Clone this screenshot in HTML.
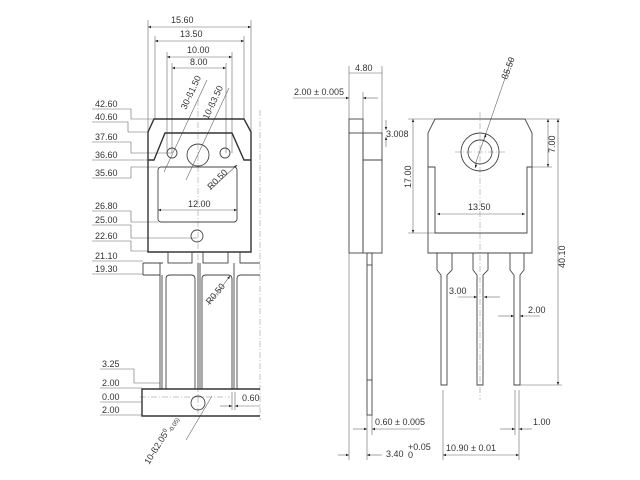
<!DOCTYPE html>
<html><head><meta charset="utf-8"><style>
html,body{margin:0;padding:0;background:#fff;}
svg{display:block;}
text{font-family:"Liberation Sans",sans-serif;font-size:9px;fill:#333;}
.o{fill:none;stroke:#333;stroke-width:1.4;}
.m{fill:none;stroke:#444;stroke-width:0.9;}
.d{fill:none;stroke:#666;stroke-width:0.6;}
.c{fill:none;stroke:#888;stroke-width:0.5;stroke-dasharray:6 2 1 2;}
</style></head><body>
<svg width="640" height="480" viewBox="0 0 640 480" xmlns="http://www.w3.org/2000/svg">
<defs>
<marker id="a" viewBox="0 0 10 10" refX="10" refY="5" markerWidth="7" markerHeight="5" orient="auto-start-reverse"><path d="M0,1 L10,5 L0,9 z" fill="#222"/></marker>
</defs>
<g class="d">
<line x1="148" y1="27" x2="251" y2="27" marker-start="url(#a)" marker-end="url(#a)"/>
<line x1="155" y1="41" x2="244" y2="41" marker-start="url(#a)" marker-end="url(#a)"/>
<line x1="167" y1="57" x2="232" y2="57" marker-start="url(#a)" marker-end="url(#a)"/>
<line x1="172" y1="68" x2="226" y2="68" marker-start="url(#a)" marker-end="url(#a)"/>
<line x1="148" y1="20" x2="148" y2="132"/><line x1="251" y1="20" x2="251" y2="132"/>
<line x1="155" y1="36" x2="155" y2="119"/><line x1="244" y1="36" x2="244" y2="119"/>
<line x1="167" y1="52" x2="167" y2="153"/><line x1="232" y1="52" x2="232" y2="153"/>
<line x1="172" y1="63" x2="172" y2="153"/><line x1="226" y1="63" x2="226" y2="153"/>
<line x1="164" y1="172" x2="207" y2="80"/>
<line x1="186" y1="180" x2="229" y2="88"/>
<line x1="210" y1="190" x2="237" y2="165" marker-end="url(#a)"/>
<line x1="158" y1="210" x2="237" y2="210" marker-start="url(#a)" marker-end="url(#a)"/>
<line x1="208" y1="305" x2="230" y2="276" marker-end="url(#a)"/>
<line x1="186" y1="440" x2="212" y2="396" />
<line x1="220" y1="406" x2="232" y2="406" marker-end="url(#a)"/>
<line x1="235" y1="406" x2="260" y2="406" marker-start="url(#a)"/>
<line x1="232" y1="392" x2="232" y2="410"/><line x1="235" y1="392" x2="235" y2="410"/>
</g>
<g class="c">
<line x1="198" y1="100" x2="198" y2="420"/>
<line x1="260" y1="110" x2="260" y2="420"/>
<line x1="140" y1="397" x2="230" y2="397"/>
</g>
<text x="171" y="23">15.60</text>
<text x="180" y="37">13.50</text>
<text x="187" y="53">10.00</text>
<text x="190" y="65">8.00</text>
<text transform="translate(186,110) rotate(-65)">30-ß1.50</text>
<text transform="translate(208,120) rotate(-65)">10-ß3.50</text>
<text transform="translate(211,190) rotate(-45)">R0.50</text>
<text x="188" y="207">12.00</text>
<text transform="translate(210,305) rotate(-50)">R0.50</text>
<text x="242" y="401">0.60</text>
<text transform="translate(149,465) rotate(-58)">10-ß2.05<tspan dy="-3" font-size="6">0</tspan><tspan dy="5" font-size="6">-0.05)</tspan></text>
<g>
<text x="95" y="107">42.60</text><text x="95" y="120">40.60</text>
<text x="95" y="140">37.60</text><text x="95" y="158">36.60</text>
<text x="95" y="176">35.60</text><text x="95" y="209">26.80</text>
<text x="95" y="223">25.00</text><text x="95" y="239">22.60</text>
<text x="95" y="259">21.10</text><text x="95" y="272">19.30</text>
<text x="102" y="367">3.25</text><text x="102" y="386">2.00</text>
<text x="102" y="400">0.00</text><text x="102" y="413">2.00</text>
</g>
<g class="d">
<polyline points="92,109 131,109 131,119 155,119"/>
<polyline points="92,122 128,122 128,132 148,132"/>
<polyline points="92,142 131,142 131,153 172,153"/>
<polyline points="92,160 131,160 131,160 148,160"/>
<polyline points="92,178 131,178 131,167 158,167"/>
<polyline points="92,211 131,211 131,222 158,222"/>
<polyline points="92,225 131,225 131,238 197,238"/>
<polyline points="92,241 131,241 131,251 148,251"/>
<polyline points="92,261 143,261"/>
<polyline points="92,274 143,274"/>
<polyline points="100,369 134,369 134,383 160,383"/>
<polyline points="100,388 142,388"/>
<polyline points="100,402 142,402"/>
<polyline points="100,415 142,415"/>
</g>
<polygon class="o" points="154,119 244,119 251,132 251,252 148,252 148,132"/>
<polyline class="o" points="148,160 154,160 165,133 232,133 244,160 251,160"/>
<rect class="m" x="158" y="167" width="79" height="55" rx="3"/>
<circle class="m" cx="172" cy="153" r="5"/>
<circle class="m" cx="225" cy="153" r="5"/>
<circle class="m" cx="198" cy="155" r="11"/>
<circle class="m" cx="197" cy="236" r="6"/>
<g class="m">
<rect x="168" y="252" width="24" height="11"/>
<rect x="203" y="252" width="25" height="11"/>
<polyline points="240,252 240,263 260,263"/>
<polyline points="143,263 163,263"/>
<line x1="143" y1="263" x2="143" y2="275"/>
<line x1="143" y1="275" x2="160" y2="275"/>
<line x1="160" y1="263" x2="160" y2="389"/>
<line x1="162" y1="275" x2="162" y2="389"/>
<path d="M166,389 L166,279 Q166,275 170,275 L191,275 Q195,275 195,279 L195,389"/>
<path d="M202,389 L202,279 Q202,275 206,275 L228,275 Q232,275 232,279 L232,389"/>
<path d="M237,389 L237,279 Q237,275 241,275 L260,275"/>
<line x1="198" y1="263" x2="198" y2="389"/><line x1="200" y1="263" x2="200" y2="389"/>
<line x1="234" y1="263" x2="234" y2="389"/>
</g>
<polyline class="o" points="260,389 142,389 142,416 260,416"/>
<circle class="m" cx="198" cy="403" r="7"/>

<g class="d">
<line x1="349" y1="66" x2="349" y2="119"/><line x1="382" y1="66" x2="382" y2="133"/>
<line x1="349" y1="73" x2="382" y2="73"/>
<line x1="293" y1="98" x2="349" y2="98" marker-end="url(#a)"/>
<line x1="363" y1="98" x2="378" y2="98" marker-start="url(#a)"/>
<line x1="363" y1="92" x2="363" y2="119"/>
<line x1="386" y1="120" x2="386" y2="130" marker-end="url(#a)"/>
<line x1="386" y1="147" x2="386" y2="137" marker-end="url(#a)"/>
<line x1="349" y1="253" x2="349" y2="460"/>
<line x1="367" y1="415" x2="367" y2="460"/><line x1="372" y1="415" x2="372" y2="435"/>
<line x1="353" y1="429" x2="367" y2="429" marker-end="url(#a)"/>
<line x1="372" y1="429" x2="420" y2="429" marker-start="url(#a)"/>
<line x1="338" y1="455" x2="349" y2="455" marker-end="url(#a)"/>
<line x1="367" y1="455" x2="382" y2="455" marker-start="url(#a)"/>
</g>
<text x="355" y="71">4.80</text>
<text x="294" y="95">2.00 ± 0.005</text>
<text x="386" y="137">3.008</text>
<text x="375" y="425">0.60 ± 0.005</text>
<text x="386" y="457">3.40</text>
<text x="408" y="450" font-size="6">+0.05</text>
<text x="408" y="458" font-size="6">0</text>
<g class="m">
<rect x="349" y="119" width="14" height="134"/>
<rect x="363" y="133" width="19" height="120"/>
<line x1="349" y1="133" x2="363" y2="133"/>
<line x1="363" y1="160" x2="382" y2="160"/>
<rect x="367" y="253" width="5" height="162"/>
<line x1="367" y1="265" x2="372" y2="265"/><line x1="367" y1="380" x2="372" y2="380"/>
</g>

<g class="d">
<line x1="408" y1="119" x2="560" y2="119"/>
<line x1="408" y1="233" x2="437" y2="233"/>
<line x1="527" y1="167" x2="552" y2="167"/>
<line x1="413" y1="119" x2="413" y2="233" marker-start="url(#a)" marker-end="url(#a)"/>
<line x1="548" y1="119" x2="548" y2="167" marker-start="url(#a)" marker-end="url(#a)"/>
<line x1="558" y1="119" x2="558" y2="385" marker-start="url(#a)" marker-end="url(#a)"/>
<line x1="520" y1="385" x2="562" y2="385"/>
<line x1="437" y1="214" x2="525" y2="214" marker-start="url(#a)" marker-end="url(#a)"/>
<line x1="458" y1="297" x2="477" y2="297" marker-end="url(#a)"/>
<line x1="484" y1="297" x2="500" y2="297" marker-start="url(#a)"/>
<line x1="498" y1="316" x2="514" y2="316" marker-end="url(#a)"/>
<line x1="520" y1="316" x2="540" y2="316" marker-start="url(#a)"/>
<line x1="475" y1="165" x2="512" y2="58"/>
<line x1="484" y1="140" x2="486" y2="134" marker-end="url(#a)"/>
<line x1="477" y1="163" x2="475" y2="168" marker-end="url(#a)"/>
<line x1="443" y1="390" x2="443" y2="460"/>
<line x1="515" y1="390" x2="515" y2="435"/><line x1="519" y1="390" x2="519" y2="460"/>
<line x1="500" y1="429" x2="515" y2="429" marker-end="url(#a)"/>
<line x1="519" y1="429" x2="532" y2="429" marker-start="url(#a)"/>
<line x1="443" y1="455" x2="519" y2="455" marker-start="url(#a)" marker-end="url(#a)"/>
</g>
<g class="c">
<line x1="480" y1="112" x2="480" y2="400"/>
<line x1="455" y1="152" x2="505" y2="152"/>
</g>
<text transform="translate(411,188) rotate(-90)">17.00</text>
<text transform="translate(555,153) rotate(-90)">7.00</text>
<text transform="translate(565,268) rotate(-90)">40.10</text>
<text x="468" y="210">13.50</text>
<text x="449" y="294">3.00</text>
<text x="528" y="313">2.00</text>
<text x="533" y="425">1.00</text>
<text x="446" y="451">10.90 ± 0.01</text>
<text transform="translate(507,80) rotate(-70)">ß5.50</text>
<g class="m">
<polygon points="435,119 525,119 532,133 532,253 428,253 428,133"/>
<polyline points="428,167 435,167 435,233 527,233 527,167 532,167"/>
<circle cx="480" cy="152" r="19"/>
<circle cx="480" cy="152" r="12"/>
<path d="M437,253 L437,270 L441,275 L441,385 L447,385 L447,275 L452,270 L452,253"/>
<path d="M473,253 L473,270 L477,275 L477,385 L483,385 L483,275 L488,270 L488,253"/>
<path d="M510,253 L510,270 L514,275 L514,385 L520,385 L520,275 L524,270 L524,253"/>
</g>
</svg>
</body></html>
